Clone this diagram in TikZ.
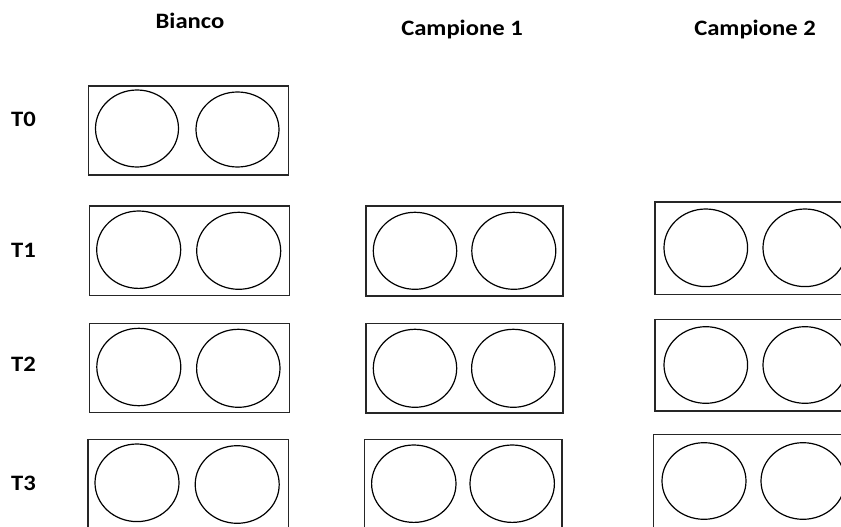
\documentclass[tikz,border=0pt]{standalone}
\usepackage{fontspec}
\setmainfont[FakeStretch=1.12]{Carlito}
\begin{document}
\begin{tikzpicture}[x=1pt,y=-1pt,
  lbl/.style={font=\fontsize{22}{25}\selectfont\bfseries, text=black, inner sep=0pt},
  platebox/.style={draw=black!85, line width=1.6pt},
  ring/.style={draw=black, line width=1.2pt}]
\useasboundingbox (0,0) rectangle (841,527);
\clip (0,0) rectangle (841,527);
% headers
\node[lbl] (hB) at (190,21) {Bianco};
\node[lbl] (hC1) at (462,30) {Campione 1};
\node[lbl] (hC2) at (755,30) {Campione 2};
% row labels
\node[lbl] (t0) at (23.5,119) {T0};
\node[lbl] (t1) at (23.5,250) {T1};
\node[lbl] (t2) at (23.5,364) {T2};
\node[lbl] (t3) at (23.5,483) {T3};
% Bianco
\draw[platebox] (88.5,86) rectangle (288.5,175);
\draw[ring] (137,128.5) ellipse (41.5pt and 38.5pt);
\draw[ring] (237.5,129.5) ellipse (41.5pt and 37.5pt);
\draw[platebox] (89.3,206) rectangle (289.3,295.3);
\draw[ring] (138.7,249.7) ellipse (42pt and 38.7pt);
\draw[ring] (238.7,250.8) ellipse (42pt and 38.5pt);
\draw[platebox] (89.3,323.3) rectangle (289.3,412.3);
\draw[ring] (138.8,367) ellipse (42pt and 38.7pt);
\draw[ring] (238.3,368.3) ellipse (41.7pt and 39pt);
\draw[platebox] (88,439.3) rectangle (288.3,529);
\draw[ring] (137,482.8) ellipse (42pt and 38.8pt);
\draw[ring] (237.2,484.5) ellipse (42pt and 38.8pt);
% Campione 1
\draw[platebox] (366,206) rectangle (562.7,295.7);
\draw[ring] (415,250.8) ellipse (41.7pt and 38.5pt);
\draw[ring] (513.8,250.8) ellipse (42pt and 38.5pt);
\draw[platebox] (366,323.3) rectangle (562.7,412.7);
\draw[ring] (415,368.3) ellipse (41.7pt and 39pt);
\draw[ring] (513.3,368.3) ellipse (41.7pt and 39pt);
\draw[platebox] (364.3,439.3) rectangle (561.7,529);
\draw[ring] (413.8,483.7) ellipse (42.2pt and 38.7pt);
\draw[ring] (512.2,483.7) ellipse (42.2pt and 38.7pt);
% Campione 2
\draw[platebox] (655,201.7) rectangle (860,294.3);
\draw[ring] (705.8,247.8) ellipse (41.8pt and 38.8pt);
\draw[ring] (805,247.8) ellipse (42pt and 38.8pt);
\draw[platebox] (655,319.3) rectangle (860,411);
\draw[ring] (705.8,365) ellipse (41.8pt and 38.3pt);
\draw[ring] (805,365) ellipse (42pt and 38.3pt);
\draw[platebox] (653.3,434.3) rectangle (860,529);
\draw[ring] (704,481) ellipse (42pt and 38.3pt);
\draw[ring] (803,481) ellipse (42pt and 38.3pt);
\end{tikzpicture}
\end{document}
